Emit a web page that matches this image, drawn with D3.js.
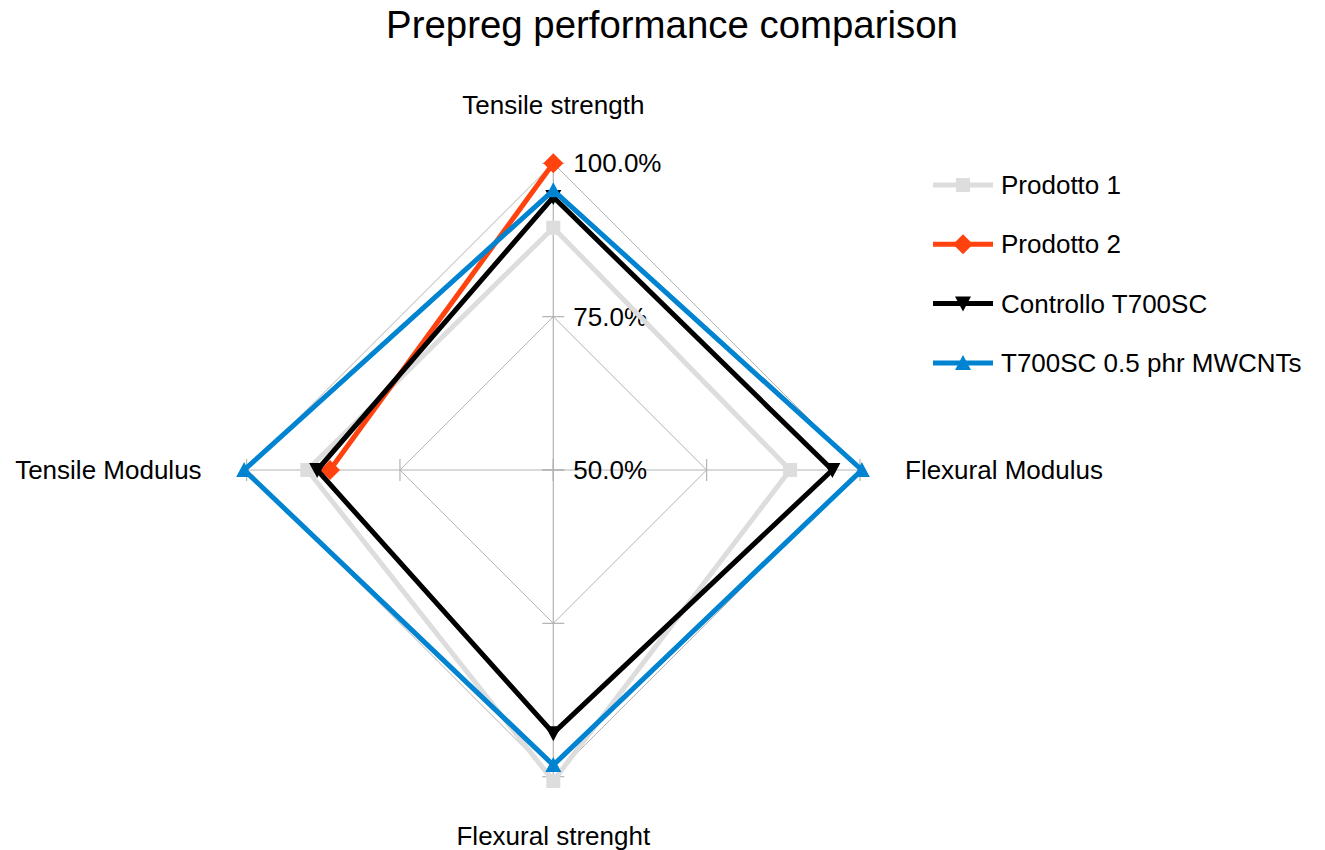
<!DOCTYPE html>
<html>
<head>
<meta charset="utf-8">
<script src="https://cdn.jsdelivr.net/npm/d3@7"></script>
<style>
  body { margin: 0; background: #fff; }
  svg { display: block; font-family: 'Liberation Sans', Arial, sans-serif; }
</style>
</head>
<body>
<div id="chart"></div>
<script>
// categories, clockwise from the top
const categories = ['Tensile strength', 'Flexural Modulus', 'Flexural strenght', 'Tensile Modulus'];
const seriesNames = ['Prodotto 1', 'Prodotto 2', 'Controllo T700SC', 'T700SC 0.5 phr MWCNTs'];
const prodotto1 = [89.5, 88.6, 100.7, 90.1];
const prodotto2 = [100.0, null, null, 86.4];
const controllo = [94.5, 95.5, 92.9, 88.5];
const mwcnts = [95.6, 100.3, 98.1, 100.4];
const tickValues = [50, 75, 100];
const tickLabels = ['50.0%', '75.0%', '100.0%'];

const colors = ['#dddddd', '#ff420e', '#000000', '#0084d1'];
const markers = ['square', 'diamond', 'triDown', 'triUp'];

const W = 1325;
const H = 850;
const cx = 553.3;
const cy = 470;
const radius = 306.7;
const fontSize = 26;

const markerPath = {
  square: 'M-7,-7h14v14h-14Z',
  diamond: 'M0,-10L10,0L0,10L-10,0Z',
  triUp: 'M0,-8L8,7L-8,7Z',
  triDown: 'M0,8L8,-7L-8,-7Z',
};

const svg = d3.select('#chart').append('svg')
  .attr('width', W)
  .attr('height', H);

svg.append('text')
  .attr('x', 672)
  .attr('y', 38)
  .attr('text-anchor', 'middle')
  .style('font-size', '38.4px')
  .text('Prepreg performance comparison');

const r = d3.scaleLinear().domain([50, 100]).range([0, radius]);
const angle = d3.scaleLinear().domain([0, categories.length]).range([0, 2 * Math.PI]);

const px = (i, v) => cx + r(v) * Math.sin(angle(i));
const py = (i, v) => cy - r(v) * Math.cos(angle(i));

const g = svg.append('g');

// grid diamonds
tickValues.slice(1).forEach(t => {
  g.append('path')
    .attr('d', d3.line()(categories.map((c, i) => [px(i, t), py(i, t)])) + 'Z')
    .style('fill', 'none')
    .style('stroke', '#b3b3b3')
    .style('stroke-width', 1);
});

// spokes + tick marks
categories.forEach((c, i) => {
  g.append('line')
    .attr('x1', cx).attr('y1', cy)
    .attr('x2', px(i, 100)).attr('y2', py(i, 100))
    .style('stroke', '#b3b3b3')
    .style('stroke-width', 1.2);
  const a = angle(i);
  tickValues.forEach(t => {
    const x0 = px(i, t);
    const y0 = py(i, t);
    const dx = 11 * Math.cos(a);
    const dy = 11 * Math.sin(a);
    g.append('line')
      .attr('x1', x0 - dx).attr('y1', y0 - dy)
      .attr('x2', x0 + dx).attr('y2', y0 + dy)
      .style('stroke', '#b3b3b3')
      .style('stroke-width', 1.2);
  });
});

// tick labels on the first axis
tickValues.forEach((t, k) => {
  g.append('text')
    .attr('x', cx + 20)
    .attr('y', py(0, t))
    .attr('dy', '0.35em')
    .style('font-size', `${fontSize}px`)
    .text(tickLabels[k]);
});

// category labels
const labelPos = [
  { dx: 0, dy: -58, anchor: 'middle' },
  { dx: 45, dy: 0, anchor: 'start' },
  { dx: 0, dy: 59, anchor: 'middle' },
  { dx: -45, dy: 0, anchor: 'end' },
];
categories.forEach((c, i) => {
  const p = labelPos[i];
  g.append('text')
    .attr('x', px(i, 100) + p.dx)
    .attr('y', py(i, 100) + p.dy)
    .attr('dy', '0.35em')
    .attr('text-anchor', p.anchor)
    .style('font-size', `${fontSize}px`)
    .text(c);
});

// series
const allSeries = [prodotto1, prodotto2, controllo, mwcnts];
const line = d3.line()
  .defined(d => d.v !== null)
  .x(d => px(d.i, d.v))
  .y(d => py(d.i, d.v));

allSeries.forEach((vals, s) => {
  const pts = vals.map((v, i) => ({ i, v }));
  const closed = pts.concat([{ i: pts.length, v: vals[0] }]);
  const sg = g.append('g').attr('class', 'series');
  sg.append('path')
    .attr('d', line(closed))
    .style('fill', 'none')
    .style('stroke', colors[s])
    .style('stroke-width', 5)
    .style('stroke-linejoin', 'miter');
  sg.selectAll('.marker')
    .data(pts.filter(d => d.v !== null))
    .enter().append('path')
    .attr('class', 'marker')
    .attr('transform', d => `translate(${px(d.i, d.v)},${py(d.i, d.v)})`)
    .attr('d', markerPath[markers[s]])
    .style('fill', colors[s]);
});

// legend
const legend = svg.append('g').attr('transform', 'translate(933,185)');
seriesNames.forEach((name, s) => {
  const row = legend.append('g').attr('transform', `translate(0,${s * 59.3})`);
  row.append('line')
    .attr('x1', 0).attr('x2', 60)
    .style('stroke', colors[s])
    .style('stroke-width', 5);
  row.append('path')
    .attr('transform', 'translate(30,0)')
    .attr('d', markerPath[markers[s]])
    .style('fill', colors[s]);
  row.append('text')
    .attr('x', 68)
    .attr('dy', '0.35em')
    .style('font-size', `${fontSize}px`)
    .text(name);
});
</script>
</body>
</html>
